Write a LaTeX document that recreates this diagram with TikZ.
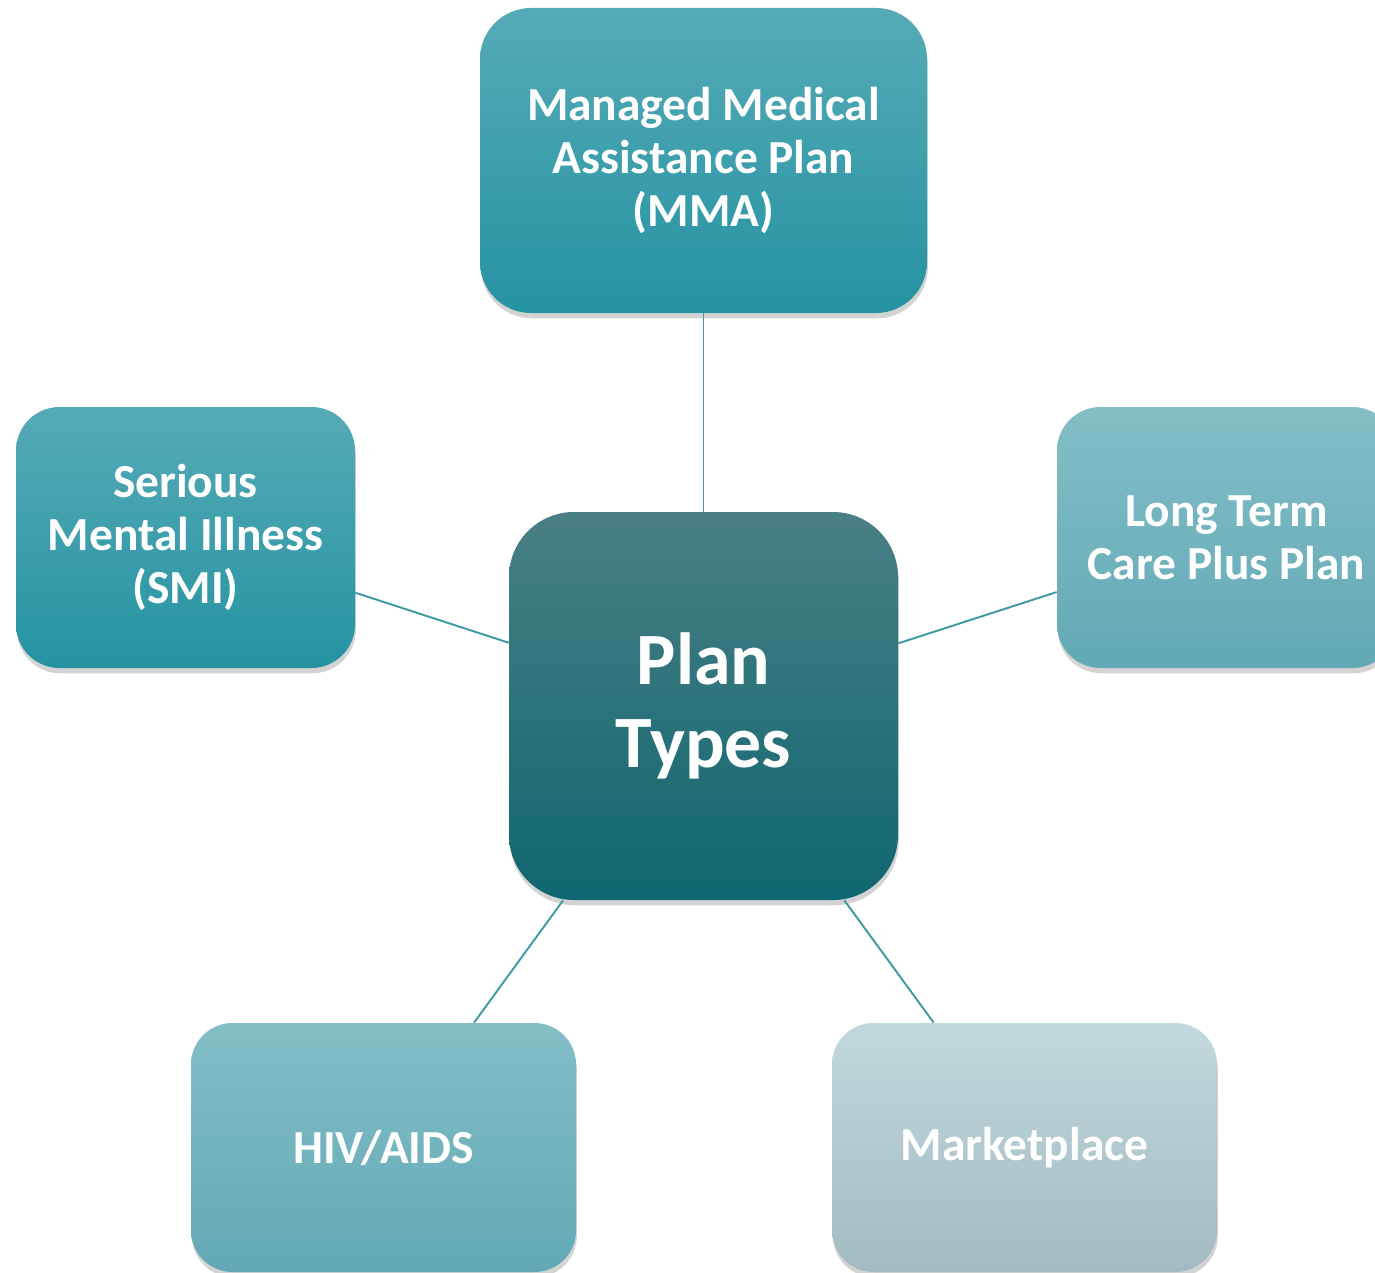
\documentclass[tikz,border=0pt]{standalone}
\usepackage{fontspec}
\setmainfont{Carlito}
\usepackage{tikz}
\usetikzlibrary{shadows}

\definecolor{mmatop}{HTML}{56AAB7}
\definecolor{mmabot}{HTML}{2593A2}
\definecolor{plantop}{HTML}{4A7F85}
\definecolor{planbot}{HTML}{0F6670}
\definecolor{ltctop}{HTML}{84BEC7}
\definecolor{ltcbot}{HTML}{62A9B5}
\definecolor{mkttop}{HTML}{C1D8DD}
\definecolor{mktbot}{HTML}{A2BAC1}
\definecolor{linkcol}{HTML}{3F98A4}

\begin{document}
\begin{tikzpicture}[
  planbox/.style={rectangle,inner sep=0pt,align=center,text=white,
    font=\bfseries\fontsize{27}{30}\selectfont,
    drop shadow={shadow xshift=0.5pt,shadow yshift=-3pt,opacity=0.35}},
  link/.style={draw=linkcol,line width=1.1pt}]
  \useasboundingbox (0,0) rectangle (27.5,-25.46);
  % centre
  \node[planbox,minimum width=7.78cm,minimum height=7.76cm,rounded corners=1.3cm,
    top color=plantop,bottom color=planbot,
    font=\bfseries\fontsize{42}{47}\selectfont] (plan) at (14.07,-14.12) {Plan\\Types};
  % the five plans
  \node[planbox,minimum width=8.94cm,minimum height=6.10cm,rounded corners=1.02cm,
    top color=mmatop,bottom color=mmabot] (mma) at (14.07,-3.21)
    {Managed Medical\\Assistance Plan\\(MMA)};
  \node[planbox,minimum width=6.78cm,minimum height=5.22cm,rounded corners=0.87cm,
    top color=mmatop,bottom color=mmabot] (smi) at (3.71,-10.75)
    {Serious\\Mental Illness\\(SMI)};
  \node[planbox,minimum width=6.78cm,minimum height=5.22cm,rounded corners=0.87cm,
    top color=ltctop,bottom color=ltcbot] (ltc) at (24.53,-10.75)
    {Long Term\\Care Plus Plan};
  \node[planbox,minimum width=7.70cm,minimum height=4.98cm,rounded corners=0.83cm,
    top color=ltctop,bottom color=ltcbot] (hiv) at (7.67,-22.95) {HIV/AIDS};
  \node[planbox,minimum width=7.70cm,minimum height=4.98cm,rounded corners=0.83cm,
    top color=mkttop,bottom color=mktbot] (mkt) at (20.49,-22.95) {Marketplace};
  % links
  \draw[link] (mma) -- (plan);
  \draw[link] (smi) -- (plan);
  \draw[link] (ltc) -- (plan);
  \draw[link] (hiv) -- (plan);
  \draw[link] (mkt) -- (plan);
\end{tikzpicture}
\end{document}
